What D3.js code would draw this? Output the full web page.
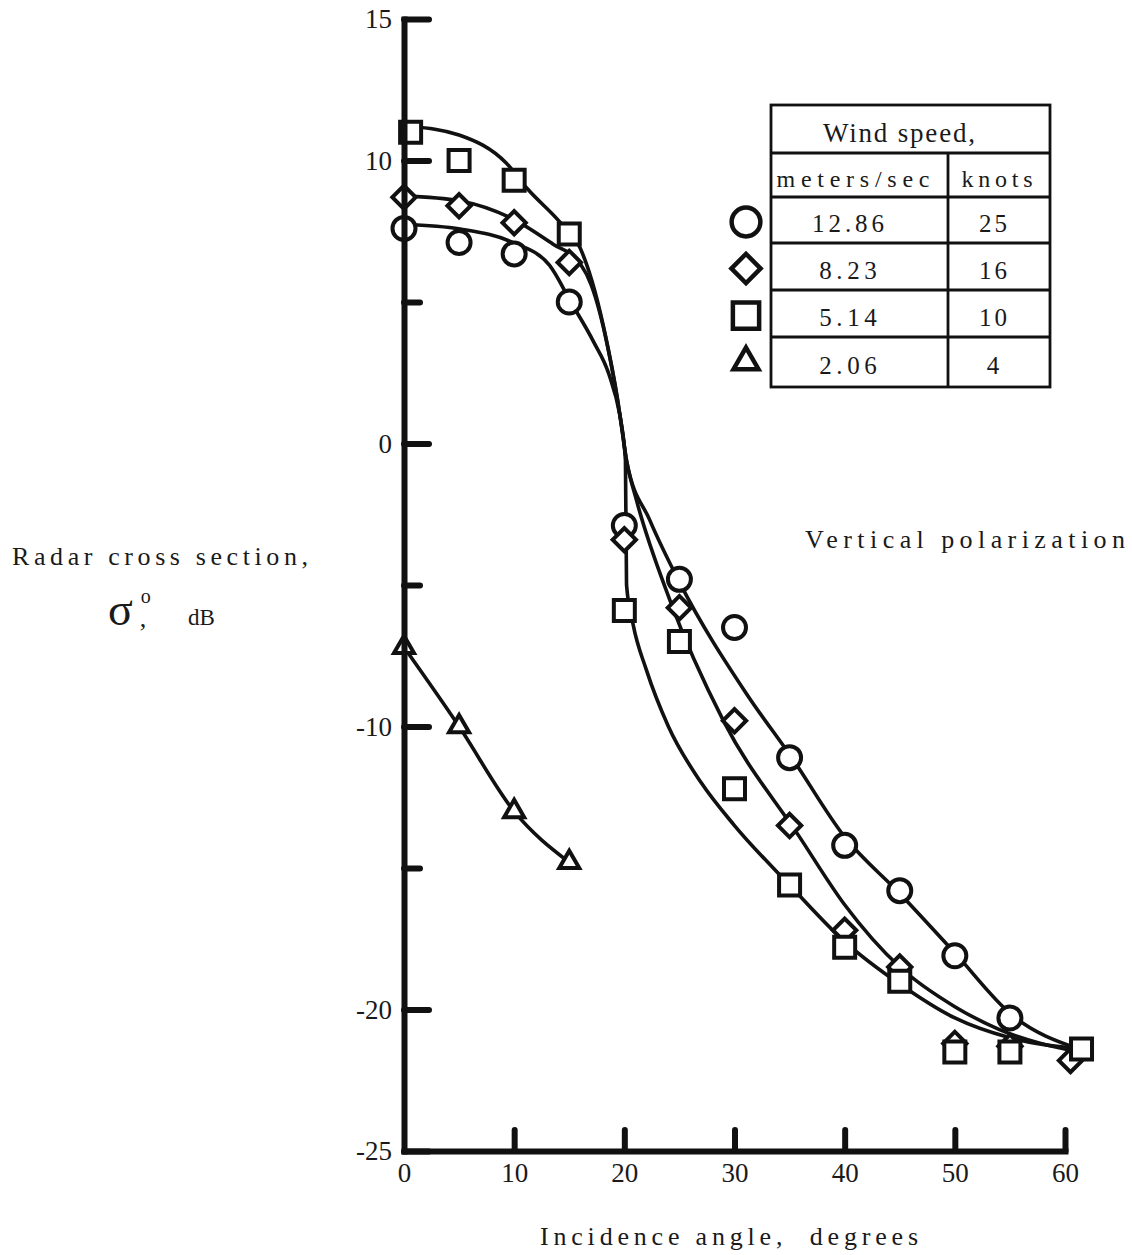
<!DOCTYPE html>
<html>
<head>
<meta charset="utf-8">
<script src="https://cdn.jsdelivr.net/npm/d3@7"></script>
<style>
  body { margin: 0; background: #fff; }
  text { font-family: "Liberation Serif", "Times New Roman", serif; fill: #1a1a1a; }
</style>
</head>
<body>
<div id="chart"></div>
<script>
const width = 1132;
const height = 1255;

// measured points: incidence angle (deg), sigma0 (dB)
const circleAngle = [0, 5, 10, 15, 20, 25, 30, 35, 40, 45, 50, 55];
const circleDb = [7.6, 7.1, 6.7, 5.0, -2.9, -4.8, -6.5, -11.1, -14.2, -15.8, -18.1, -20.3];
const diamondAngle = [0, 5, 10, 15, 20, 25, 30, 35, 40, 45, 50, 55, 60.5];
const diamondDb = [8.7, 8.4, 7.8, 6.4, -3.4, -5.8, -9.8, -13.5, -17.2, -18.5, -21.2, -21.3, -21.8];
const squareAngle = [0.6, 5, 10, 15, 20, 25, 30, 35, 40, 45, 50, 55, 61.5];
const squareDb = [11.0, 10.0, 9.3, 7.4, -5.9, -7.0, -12.2, -15.6, -17.8, -19.0, -21.5, -21.5, -21.4];
const triangleAngle = [0, 5, 10, 15];
const triangleDb = [-7.2, -10.0, -13.0, -14.8];

// faired curves
const circleFitAngle = [0, 5.1, 9.9, 13.2, 15.2, 17.2, 18.6, 19.6, 20.2, 22.3, 25, 31.1, 35.2, 40, 45, 50, 55.2, 61.3];
const circleFitDb = [7.75, 7.58, 7.1, 6.3, 4.96, 3.6, 2.45, 1.0, -0.6, -2.7, -4.9, -8.85, -11.1, -13.9, -15.9, -18.0, -20.2, -21.4];
const diamondFitAngle = [0, 5.1, 9.9, 13.5, 16, 17, 18.5, 19.6, 20.2, 21.1, 24.1, 29, 35.9, 40, 45, 50, 54, 61.3];
const diamondFitDb = [8.75, 8.57, 7.93, 7.05, 6.35, 5.6, 3.4, 1.0, -0.6, -2.0, -5.5, -9.8, -13.9, -16.3, -18.5, -19.9, -20.7, -21.5];
const squareFitAngle = [0.6, 5, 9.3, 11.2, 14.2, 16, 18.4, 19.6, 20.1, 20.2, 20.8, 22, 24, 27, 30, 35, 40, 45, 50, 55, 61.5];
const squareFitDb = [11.2, 10.9, 9.9, 9.0, 7.8, 6.9, 3.6, 1.0, -0.6, -5.0, -6.4, -8.0, -10.0, -12.0, -13.5, -15.6, -17.6, -19.1, -20.3, -21.0, -21.4];

// legend table
const speedMs = ["12.86", "8.23", "5.14", "2.06"];
const speedKnots = ["25", "16", "10", "4"];
const markerKinds = ["circle", "diamond", "square", "triangle"];

const xTicks = [0, 10, 20, 30, 40, 50, 60];
const yMajor = [15, 10, 0, -10, -20, -25];
const yMinor = [5, -5, -15];

const svg = d3.select("#chart")
    .append("svg")
        .attr("width", width)
        .attr("height", height);

const x = d3.scaleLinear().domain([0, 60]).range([404, 1065]);
const y = d3.scaleLinear().domain([-25, 15]).range([1151, 19]);

const zip = (a, b) => a.map((v, i) => [v, b[i]]);

const line = d3.line()
    .x(d => x(d[0]))
    .y(d => y(d[1]))
    .curve(d3.curveMonotoneX);

const curves = svg.append("g")
    .attr("fill", "none")
    .attr("stroke", "#111")
    .attr("stroke-width", 3.6);

curves.append("path").attr("d", line(zip(circleFitAngle, circleFitDb)));
curves.append("path").attr("d", line(zip(diamondFitAngle, diamondFitDb)));
curves.append("path").attr("d", line(zip(squareFitAngle, squareFitDb)));
curves.append("path").attr("d", line(zip(triangleAngle, triangleDb)));

// marker shapes
function marker(kind, s) {
    if (kind == "circle") return d3.symbol(d3.symbolCircle, Math.PI * 11.5 * 11.5 * s * s)();
    if (kind == "square") return d3.symbol(d3.symbolSquare, 21 * 21 * s * s)();
    if (kind == "diamond") return d3.symbol(d3.symbolSquare, 16.5 * 16.5 * s * s)();
    return d3.symbol(d3.symbolTriangle, 20 * 20 * 0.433 * s * s)();
}

function drawMarkers(kind, xs, ys) {
    svg.append("g")
        .selectAll("path")
        .data(zip(xs, ys))
        .join("path")
            .attr("d", marker(kind, 1))
            .attr("transform", d => `translate(${x(d[0])},${y(d[1])})` + (kind == "diamond" ? " rotate(45)" : ""))
            .attr("fill", "#fff")
            .attr("stroke", "#111")
            .attr("stroke-width", 4);
}

drawMarkers("circle", circleAngle, circleDb);
drawMarkers("diamond", diamondAngle, diamondDb);
drawMarkers("square", squareAngle, squareDb);
drawMarkers("triangle", triangleAngle, triangleDb);

// axes
const yAxis = svg.append("g")
    .attr("transform", `translate(${x(0)},0)`)
    .call(d3.axisLeft(y).tickValues(yMajor).tickSize(-25).tickSizeOuter(0).tickPadding(12).tickFormat(d => String(d)));
const yAxisMinor = svg.append("g")
    .attr("transform", `translate(${x(0)},0)`)
    .call(d3.axisLeft(y).tickValues(yMinor).tickSize(-16).tickSizeOuter(0).tickFormat(""));
yAxisMinor.select(".domain").remove();

const xAxis = svg.append("g")
    .attr("transform", `translate(0,${y(-25)})`)
    .call(d3.axisBottom(x).tickValues(xTicks).tickSize(-21).tickSizeOuter(0).tickPadding(15).tickFormat(d => String(d)));

svg.selectAll(".domain")
    .attr("stroke", "#111")
    .attr("stroke-width", 6)
    .attr("stroke-linecap", "square");
svg.selectAll(".tick line")
    .attr("stroke", "#111")
    .attr("stroke-width", 6)
    .attr("stroke-linecap", "round");
svg.selectAll(".tick text")
    .attr("font-family", "Liberation Serif")
    .attr("font-size", 27)
    .attr("fill", "#1a1a1a");
xAxis.selectAll(".tick text").attr("dy", "0.6em");
xAxis.selectAll(".tick").filter(d => d == 0).select("line").remove();

// text helper
function label(str, tx, ty, size, len, anchor) {
    const t = svg.append("text")
        .attr("x", tx)
        .attr("y", ty)
        .attr("font-size", size)
        .attr("text-anchor", anchor || "start")
        .text(str);
    if (len) t.attr("textLength", len).attr("lengthAdjust", "spacing");
    return t;
}

label("Radar cross section,", 12, 565, 26, 296);
const sig = label("\u03c3", 108, 625, 46);
sig.append("tspan").attr("font-size", 20).attr("dx", 8).attr("dy", -22).text("o");
sig.append("tspan").attr("font-size", 26).attr("dx", -11).attr("dy", 24).text(",");
label("dB", 188, 625, 23);
label("Vertical polarization", 805, 548, 26, 320);
label("Incidence angle,\u00a0 degrees", 540, 1245, 26, 378);

// legend table
const lg = svg.append("g")
    .attr("fill", "none")
    .attr("stroke", "#111")
    .attr("stroke-width", 2.8);
const rowY = [197, 243, 290, 337, 387];
lg.append("rect").attr("x", 771).attr("y", 105).attr("width", 279).attr("height", 282);
lg.append("line").attr("x1", 771).attr("x2", 1050).attr("y1", 153).attr("y2", 153);
rowY.slice(0, 4).forEach(r => lg.append("line").attr("x1", 771).attr("x2", 1050).attr("y1", r).attr("y2", r));
lg.append("line").attr("x1", 948).attr("x2", 948).attr("y1", 153).attr("y2", 387);

label("Wind speed,", 899, 142, 27, 152, "middle");
label("meters/sec", 853, 187, 24, 153, "middle");
label("knots", 997, 187, 24, 71, "middle");

speedMs.forEach((s, i) => {
    const cy = (rowY[i] + rowY[i + 1]) / 2;
    label(s, 848, cy + 12, 25, s.length * 14.4, "middle");
    label(speedKnots[i], 993, cy + 12, 25, speedKnots[i].length * 14, "middle");
    svg.append("path")
        .attr("d", marker(markerKinds[i], 1.25))
        .attr("transform", `translate(746,${cy + (markerKinds[i] == "triangle" ? 0 : 2)})` + (markerKinds[i] == "diamond" ? " rotate(45)" : ""))
        .attr("fill", "#fff")
        .attr("stroke", "#111")
        .attr("stroke-width", 4.5);
});
</script>
</body>
</html>
